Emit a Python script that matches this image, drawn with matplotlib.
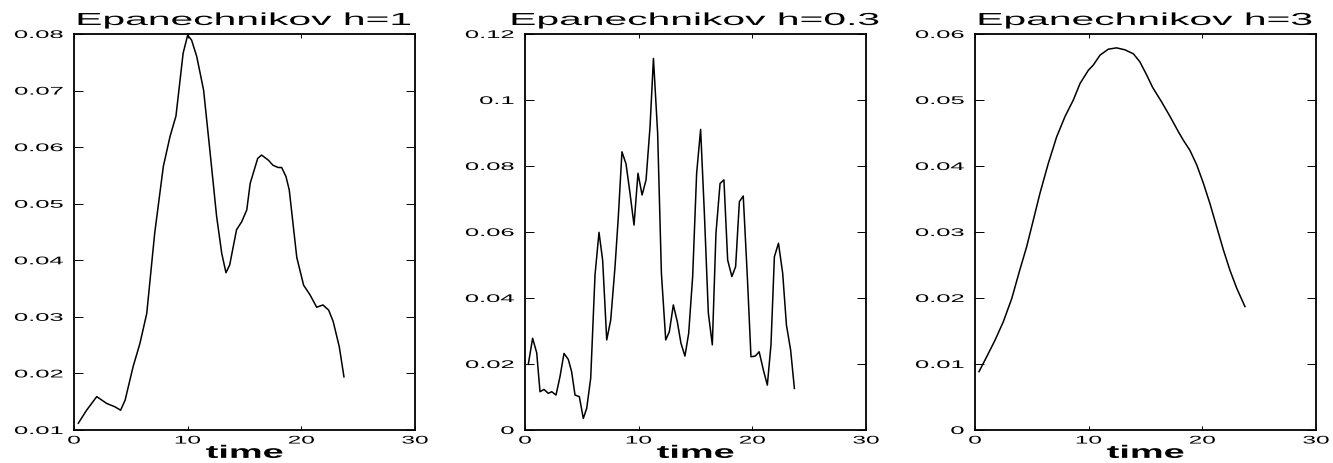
import matplotlib
matplotlib.use("Agg")
import matplotlib.pyplot as plt
from matplotlib import patheffects
from matplotlib.transforms import Affine2D

# ---------- данные ----------
t1 = [0.38, 1.11, 2.0, 2.87, 3.6, 4.1, 4.5, 5.2, 5.8, 6.4, 7.1, 7.86, 8.45, 8.97,
      9.6, 10.0, 10.35, 10.8, 11.4, 11.95, 12.55, 13.0, 13.37, 13.7, 14.3, 14.75,
      15.2, 15.5, 16.16, 16.5, 17.1, 17.5, 17.96, 18.27, 18.65, 18.94, 19.3, 19.6,
      20.2, 20.76, 21.35, 21.9, 22.4, 22.8, 23.34, 23.75]
f1 = [0.0112, 0.0135, 0.0159, 0.0147, 0.0141, 0.0135, 0.0153, 0.0212, 0.0253,
      0.0306, 0.0448, 0.0566, 0.0619, 0.0655, 0.0766, 0.0798, 0.0789, 0.0760,
      0.0701, 0.0595, 0.0477, 0.0412, 0.0378, 0.0392, 0.0454, 0.0468, 0.0489,
      0.0536, 0.0580, 0.0586, 0.0577, 0.0568, 0.0564, 0.0564, 0.0548, 0.0524,
      0.0459, 0.0405, 0.0356, 0.0339, 0.0317, 0.0321, 0.0312, 0.0292, 0.0247,
      0.0194]

t2 = [0.29, 0.67, 1.03, 1.32, 1.67, 2.05, 2.35, 2.73, 3.08, 3.43, 3.81, 4.1, 4.4,
      4.78, 5.13, 5.43, 5.78, 6.16, 6.51, 6.83, 7.19, 7.54, 7.92, 8.21, 8.53, 8.89,
      9.24, 9.59, 9.94, 10.3, 10.65, 11.0, 11.3, 11.67, 12.0, 12.38, 12.7, 13.05,
      13.4, 13.72, 14.07, 14.4, 14.75, 15.1, 15.45, 15.78, 16.13, 16.48, 16.8,
      17.16, 17.5, 17.83, 18.2, 18.53, 18.86, 19.2, 19.56, 19.88, 20.26, 20.6,
      20.97, 21.32, 21.64, 21.94, 22.3, 22.67, 23.0, 23.37, 23.7]
f2 = [0.0199, 0.0278, 0.0234, 0.0116, 0.0123, 0.0111, 0.0116, 0.0106, 0.0162,
      0.0232, 0.0214, 0.0177, 0.0106, 0.0101, 0.0035, 0.0066, 0.0157, 0.0470,
      0.0599, 0.0515, 0.0273, 0.0333, 0.0495, 0.0646, 0.0843, 0.0806, 0.0717,
      0.0621, 0.0778, 0.0712, 0.0758, 0.0919, 0.1126, 0.0899, 0.0475, 0.0273,
      0.0298, 0.0379, 0.0328, 0.0263, 0.0224, 0.0293, 0.0465, 0.0778, 0.0911,
      0.0657, 0.0354, 0.0258, 0.0596, 0.0747, 0.0758, 0.0515, 0.0465, 0.0495,
      0.0692, 0.0709, 0.0465, 0.0222, 0.0224, 0.0237, 0.0182, 0.0136, 0.0258,
      0.0525, 0.0566, 0.0475, 0.0318, 0.0242, 0.0126]

t3 = [0.35, 1.03, 1.76, 2.49, 3.23, 3.9, 4.55, 5.13, 5.72, 6.45, 7.18, 7.92, 8.65,
      9.24, 9.97, 10.41, 11.0, 11.73, 12.46, 13.2, 13.93, 14.5, 15.1, 15.63, 16.42,
      17.16, 17.89, 18.33, 18.9, 19.5, 20.09, 20.67, 21.26, 21.85, 22.43, 23.02,
      23.75]
f3 = [0.00884, 0.0111, 0.0136, 0.0164, 0.0199, 0.0240, 0.0278, 0.0318, 0.0359,
      0.0404, 0.0444, 0.0475, 0.0500, 0.0525, 0.0545, 0.0553, 0.0568, 0.0577,
      0.0579, 0.0576, 0.0570, 0.0558, 0.0538, 0.0519, 0.0497, 0.0475, 0.0452,
      0.0439, 0.0424, 0.0402, 0.0374, 0.0343, 0.0308, 0.0273, 0.0242, 0.0215,
      0.0187]

titles = ["Epanechnikov h=1", "Epanechnikov h=0.3", "Epanechnikov h=3"]
xticks = [0, 10, 20, 30]
yticks1 = [0.01, 0.02, 0.03, 0.04, 0.05, 0.06, 0.07, 0.08]
yticks2 = [0, 0.02, 0.04, 0.06, 0.08, 0.1, 0.12]
yticks3 = [0, 0.01, 0.02, 0.03, 0.04, 0.05, 0.06]


# ---------- растянутый по горизонтали шрифт ----------
class StretchX(patheffects.AbstractPathEffect):
    def __init__(self, sx=2.2, anchor="center"):
        super().__init__()
        self.sx = sx
        self.anchor = anchor

    def draw_path(self, renderer, gc, tpath, affine, rgbFace=None):
        ext = affine.transform_path(tpath).get_extents()
        if self.anchor == "right":
            x0 = ext.x1
        elif self.anchor == "left":
            x0 = ext.x0
        else:
            x0 = (ext.x0 + ext.x1) / 2
        aff = affine + Affine2D().translate(-x0, 0).scale(self.sx, 1).translate(x0, 0)
        renderer.draw_path(gc, tpath, aff, rgbFace)


plt.rcParams["font.family"] = ["Liberation Sans", "DejaVu Sans"]

fig = plt.figure(figsize=(13.33, 4.63), dpi=100)
lefts = [74, 525, 975]
panels = [(t1, f1, yticks1), (t2, f2, yticks2), (t3, f3, yticks3)]

for i, (t, f, yt) in enumerate(panels):
    ax = fig.add_axes([lefts[i] / 1333, 33 / 463, 341 / 1333, 396 / 463])
    ax.plot(t, f, color="black", linewidth=1.1)
    ax.set_xlim(0, 30)
    ax.set_ylim(yt[0], yt[-1])
    ax.set_xticks(xticks)
    ax.set_xticklabels([str(v) for v in xticks])
    ax.set_yticks(yt)
    ax.set_yticklabels(["%g" % v for v in yt])
    ax.tick_params(axis="both", direction="in", top=True, right=True,
                   labelsize=8, width=0.7, colors="black")
    ax.tick_params(axis="x", length=3, pad=4)
    ax.tick_params(axis="y", length=6.5, pad=8)
    for s in ax.spines.values():
        s.set_linewidth(1.3)
    for lab in ax.get_xticklabels():
        lab.set_path_effects([StretchX(2.2, "center")])
    for lab in ax.get_yticklabels():
        lab.set_path_effects([StretchX(2.3, "right")])
    ttl = ax.set_title(titles[i], fontsize=12.5, pad=6.5)
    ttl.set_path_effects([StretchX(2.35, "center")])
    xl = ax.set_xlabel("time", fontsize=13, fontweight="bold", labelpad=-0.5)
    xl.set_path_effects([StretchX(2.1, "center")])

fig.savefig("out.png", dpi=100)
